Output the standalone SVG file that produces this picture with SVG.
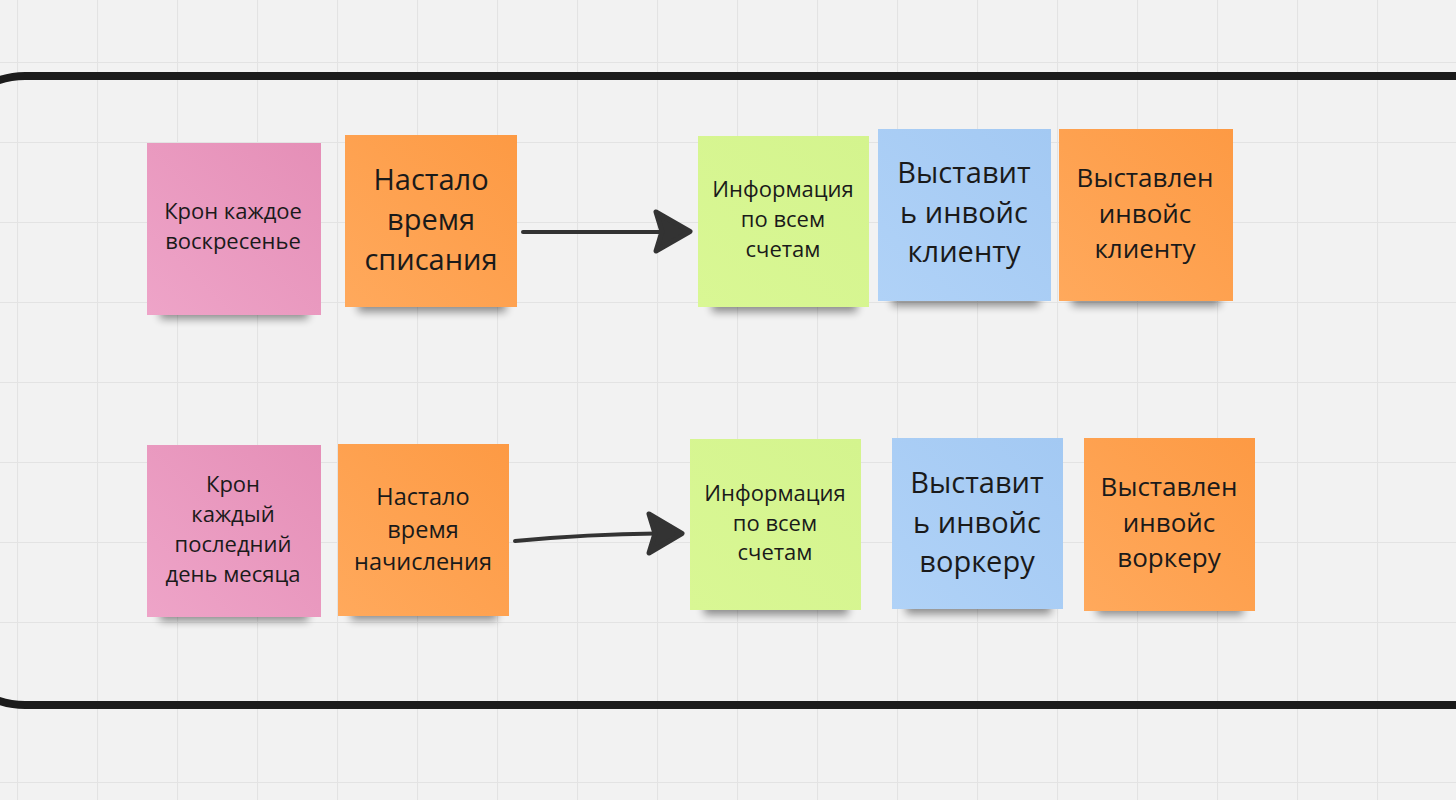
<svg xmlns="http://www.w3.org/2000/svg" width="1456" height="800" viewBox="0 0 1456 800">
<defs>
  <pattern id="grid" x="17" y="62" width="80" height="80" patternUnits="userSpaceOnUse">
    <path d="M0.5 0 V80 M0 0.5 H80" fill="none" stroke="#e3e3e3" stroke-width="1.2"/>
  </pattern>
  <filter id="sh" x="-20%" y="-100%" width="140%" height="300%">
    <feGaussianBlur stdDeviation="4.5"/>
  </filter>
  <linearGradient id="gPink" x1="1" y1="0" x2="0" y2="1">
    <stop offset="0" stop-color="#e58fb7"/>
    <stop offset="1" stop-color="#eea4c8"/>
  </linearGradient>
  <linearGradient id="gOrange" x1="1" y1="0" x2="0" y2="1">
    <stop offset="0" stop-color="#fd9a44"/>
    <stop offset="1" stop-color="#ffa95c"/>
  </linearGradient>
  <linearGradient id="gGreen" x1="1" y1="0" x2="0" y2="1">
    <stop offset="0" stop-color="#d4f48e"/>
    <stop offset="1" stop-color="#d9f794"/>
  </linearGradient>
  <linearGradient id="gBlue" x1="1" y1="0" x2="0" y2="1">
    <stop offset="0" stop-color="#a3c9f3"/>
    <stop offset="1" stop-color="#b0d2f7"/>
  </linearGradient>
</defs>
<style>
  .shadow { fill: #000; opacity: 0.42; filter: url(#sh); }
  .pink { fill: url(#gPink); }
  .orange { fill: url(#gOrange); }
  .green { fill: url(#gGreen); }
  .blue { fill: url(#gBlue); }
  text { font-family: "Open Sans", "Noto Sans", "DejaVu Sans", sans-serif; fill: #1a1a1a; text-anchor: middle; }
  .s21 { font-size: 22px; }
  .s22 { font-size: 23.5px; }
  .s24 { font-size: 26px; }
  .s27 { font-size: 29px; }
  .conn { fill: none; stroke: #333333; stroke-width: 4; stroke-linecap: round; }
  .head { fill: #333333; stroke: #333333; stroke-width: 5; stroke-linejoin: round; }
</style>

<rect x="0" y="0" width="1456" height="800" fill="#f2f2f2"/>
<rect x="0" y="0" width="1456" height="800" fill="url(#grid)"/>

<g id="frame">
  <rect x="-55" y="76" width="1600" height="629" rx="80" ry="80" fill="none" stroke="#1b1b1b" stroke-width="8"/>
</g>

<g id="n1">
  <rect class="shadow" x="160" y="304" width="148" height="15"/>
  <rect class="pink" x="147" y="143" width="174" height="172"/>
  <text class="s21" x="233" y="219">Крон каждое</text>
  <text class="s21" x="233" y="249">воскресенье</text>
</g>
<g id="n2">
  <rect class="shadow" x="358" y="297" width="148" height="15"/>
  <rect class="orange" x="345" y="135" width="172" height="172"/>
  <text class="s27" x="431" y="190">Настало</text>
  <text class="s27" x="431" y="230">время</text>
  <text class="s27" x="431" y="270">списания</text>
</g>
<g id="n3">
  <rect class="shadow" x="712" y="297" width="145" height="15"/>
  <rect class="green" x="698" y="136" width="171" height="171"/>
  <text class="s21" x="783" y="197">Информация</text>
  <text class="s21" x="783" y="227">по всем</text>
  <text class="s21" x="783" y="257">счетам</text>
</g>
<g id="n4">
  <rect class="shadow" x="892" y="291" width="147" height="15"/>
  <rect class="blue" x="878" y="129" width="173" height="172"/>
  <text class="s27" x="964" y="183">Выставит</text>
  <text class="s27" x="964" y="223">ь инвойс</text>
  <text class="s27" x="964" y="262">клиенту</text>
</g>
<g id="n5">
  <rect class="shadow" x="1072" y="291" width="148" height="15"/>
  <rect class="orange" x="1059" y="129" width="174" height="172"/>
  <text class="s24" x="1145" y="187">Выставлен</text>
  <text class="s24" x="1145" y="223">инвойс</text>
  <text class="s24" x="1145" y="258">клиенту</text>
</g>

<g id="n6">
  <rect class="shadow" x="160" y="606" width="148" height="15"/>
  <rect class="pink" x="147" y="445" width="174" height="172"/>
  <text class="s21" x="233" y="492">Крон</text>
  <text class="s21" x="233" y="522">каждый</text>
  <text class="s21" x="233" y="552">последний</text>
  <text class="s21" x="233" y="582">день месяца</text>
</g>
<g id="n7">
  <rect class="shadow" x="351" y="605" width="146" height="15"/>
  <rect class="orange" x="338" y="444" width="171" height="172"/>
  <text class="s22" x="423" y="505">Настало</text>
  <text class="s22" x="423" y="538">время</text>
  <text class="s22" x="423" y="570">начисления</text>
</g>
<g id="n8">
  <rect class="shadow" x="704" y="600" width="144" height="15"/>
  <rect class="green" x="690" y="439" width="171" height="171"/>
  <text class="s21" x="775" y="501">Информация</text>
  <text class="s21" x="775" y="531">по всем</text>
  <text class="s21" x="775" y="560">счетам</text>
</g>
<g id="n9">
  <rect class="shadow" x="906" y="599" width="145" height="15"/>
  <rect class="blue" x="892" y="438" width="171" height="171"/>
  <text class="s27" x="977" y="493">Выставит</text>
  <text class="s27" x="977" y="533">ь инвойс</text>
  <text class="s27" x="977" y="572">воркеру</text>
</g>
<g id="n10">
  <rect class="shadow" x="1097" y="600" width="146" height="15"/>
  <rect class="orange" x="1084" y="438" width="171" height="173"/>
  <text class="s24" x="1169" y="496">Выставлен</text>
  <text class="s24" x="1169" y="532">инвойс</text>
  <text class="s24" x="1169" y="567">воркеру</text>
</g>

<g id="connectors">
  <path class="conn" d="M523 232 L664 232"/>
  <path class="head" d="M656 212 L690 231.5 L656 251 L662 231.5 Z"/>
  <path class="conn" d="M515 541 Q590 534 656 533.5"/>
  <path class="head" d="M649 514 L682 533.5 L649 553 L655 533.5 Z"/>
</g>
</svg>
